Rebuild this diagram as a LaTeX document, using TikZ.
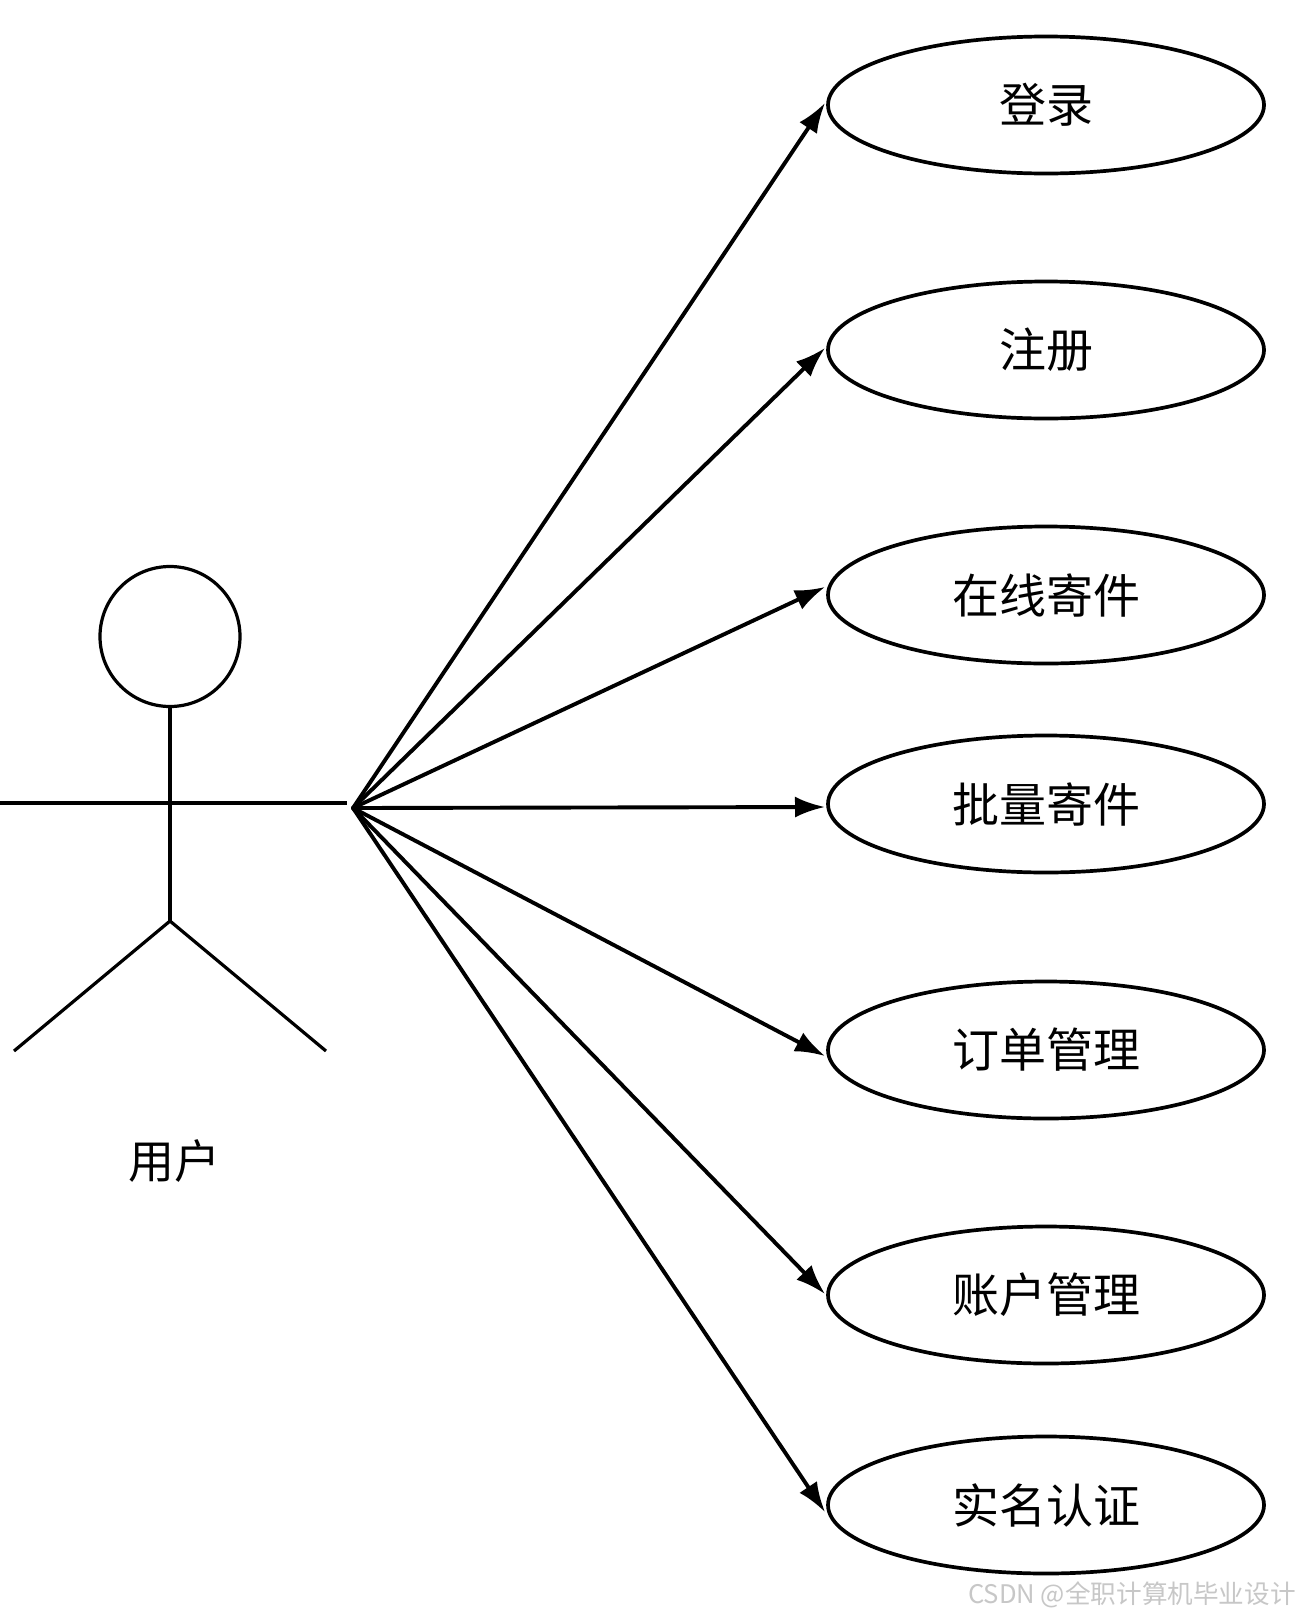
\documentclass[tikz,border=0pt]{standalone}
\usepackage{fontspec}
\usetikzlibrary{shapes.geometric,arrows.meta}
\setmainfont{Noto Sans CJK SC}
\newcommand{\uclabel}[1]{\raisebox{-0.9pt}{#1}}
\tikzset{
  usecase/.style={draw=black,line width=1.85pt,ellipse,minimum width=218pt,minimum height=68.5pt,inner sep=0pt,outer sep=0pt,font=\fontsize{23.5pt}{27pt}\selectfont},
  assoc/.style={draw=black,line width=1.95pt,line cap=round,-{Latex[length=15pt,width=10.5pt]}},
  actorline/.style={draw=black,line width=1.6pt},
  headshape/.style={draw=black,line width=1.6pt,circle,minimum size=70pt,inner sep=0pt,outer sep=0pt},
  actorlabel/.style={font=\fontsize{23pt}{26pt}\selectfont},
  wmark/.style={text=black!22,font=\fontsize{12.8pt}{15pt}\selectfont,anchor=east,inner sep=0pt}
}
\begin{document}
\begin{tikzpicture}[x=0.5pt,y=-0.5pt]
\useasboundingbox (0,0) rectangle (1300,1617);
\fill[white] (0,0) rectangle (1300,1617);
% actor
\node[headshape] (head) at (170,636.5) {};
\coordinate (crotch) at (170,921);
\coordinate (armL) at (0,803);
\coordinate (armR) at (347,803);
\coordinate (footL) at (14,1051);
\coordinate (footR) at (326,1051);
\draw[actorline] (head.south) -- (crotch);
\draw[actorline] (armL) -- (armR);
\draw[actorline] (footL) -- (crotch) -- (footR);
\node[actorlabel] (user) at (174,1161) {用户};
% use cases
\node[usecase] (login) at (1046,105) {\uclabel{登录}};
\node[usecase] (reg) at (1046,350) {\uclabel{注册}};
\node[usecase] (online) at (1046,595) {\uclabel{在线寄件}};
\node[usecase] (batch) at (1046,804) {\uclabel{批量寄件}};
\node[usecase] (order) at (1046,1050) {\uclabel{订单管理}};
\node[usecase] (account) at (1046,1295) {\uclabel{账户管理}};
\node[usecase] (real) at (1046,1505) {\uclabel{实名认证}};
% connectors: y offset of each arrow tip from the ellipse's west point
\coordinate (hub) at (353,808);
\foreach \t/\d in {login/1,reg/1,online/4,batch/-1.5,order/-3,account/0.5,real/-3.5}
  \draw[assoc] (hub) -- ([xshift=-1.5pt,yshift=\d pt]\t.west);
% watermark
\node[wmark] (wm) at (1296,1595) {CSDN @全职计算机毕业设计};
\end{tikzpicture}
\end{document}
